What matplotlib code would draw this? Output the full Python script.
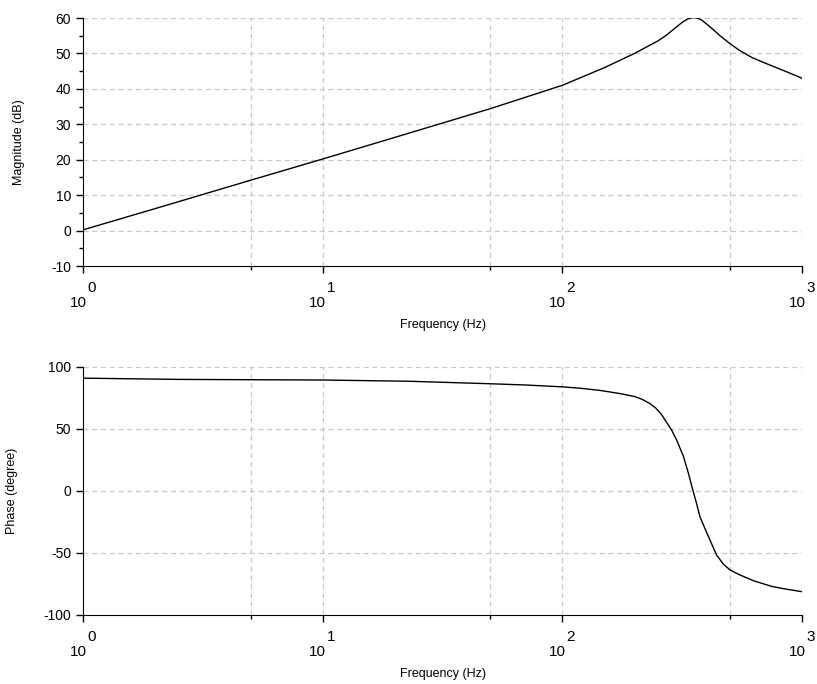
import numpy as np
import matplotlib
matplotlib.use("Agg")
import matplotlib.pyplot as plt
from matplotlib.ticker import FixedLocator, NullFormatter

plt.rcParams['font.family'] = ['Liberation Sans', 'DejaVu Sans']

# magnitude curve
mag_freq = [1, 2, 5, 10, 20, 50, 100, 150, 200, 250, 270, 290, 310, 320, 335,
            350, 365, 380, 400, 425, 455, 500, 550, 620, 700, 850, 1000]
mag_db = [0.2, 6.2, 14.2, 20.2, 26.3, 34.4, 41.0, 46.0, 50.0, 53.5, 55.0, 56.7,
          58.3, 59.0, 59.8, 60.1, 60.0, 59.5, 58.3, 56.8, 55.0, 52.8, 50.8, 48.8,
          47.3, 45.0, 43.0]

# phase curve
ph_freq = [1, 2.5, 10, 23, 50, 70, 100, 120, 145, 175, 200, 215, 232, 245, 258,
           272, 286, 300, 320, 335, 350, 362, 375, 393, 413, 440, 470, 501, 551,
           630, 750, 850, 1000]
ph_deg = [91, 90, 89.5, 88.5, 86.5, 85.5, 84, 82.8, 81, 78.5, 76.2, 74, 70.5,
          67, 62.3, 55.5, 49, 41, 28, 15, 1, -9, -20.7, -30, -39.5, -51.6, -59,
          -63.7, -67.7, -72.5, -77, -79, -81.2]

xticks = [1, 10, 100, 1000]
xtick_exp = ['0', '1', '2', '3']
xminor = [5, 50, 500]
mag_ticks = [-10, 0, 10, 20, 30, 40, 50, 60]
mag_minor = [-5, 5, 15, 25, 35, 45, 55]
ph_ticks = [-100, -50, 0, 50, 100]

fig = plt.figure(figsize=(8.17, 6.84), dpi=100)
ax1 = fig.add_axes([83/817, 1-266/684, 719/817, 248/684])
ax2 = fig.add_axes([83/817, 1-615/684, 719/817, 248/684])

ax1.plot(mag_freq, mag_db, color='black', lw=1.0)
ax2.plot(ph_freq, ph_deg, color='black', lw=1.0)

for ax, yt, lab in [(ax1, mag_ticks, 'Magnitude (dB)'), (ax2, ph_ticks, 'Phase (degree)')]:
    ax.set_xscale('log')
    ax.set_xlim(1, 1000)
    ax.set_ylim(yt[0], yt[-1])
    ax.xaxis.set_major_locator(FixedLocator(xticks))
    ax.xaxis.set_major_formatter(NullFormatter())
    ax.xaxis.set_minor_locator(FixedLocator(xminor))
    ax.xaxis.set_minor_formatter(NullFormatter())
    ax.set_yticks(yt)
    ax.set_yticklabels([str(v) for v in yt])
    ax.spines['top'].set_visible(False)
    ax.spines['right'].set_visible(False)
    ax.tick_params(axis='both', which='major', direction='out', length=5, width=1,
                   labelsize=10, colors='black')
    ax.tick_params(axis='both', which='minor', direction='out', length=3, width=1)
    ax.set_xlabel('Frequency (Hz)', fontsize=9, labelpad=30)
    ax.set_ylabel(lab, fontsize=9)
    # "10" with raised exponent, as separate texts
    for xv, e in zip(xticks, xtick_exp):
        ax.annotate('10', (xv, 0), xycoords=('data', 'axes fraction'),
                    xytext=(-5, -41), textcoords='offset pixels',
                    ha='center', va='baseline', fontsize=11)
        ax.annotate(e, (xv, 0), xycoords=('data', 'axes fraction'),
                    xytext=(4, -26), textcoords='offset pixels',
                    ha='left', va='baseline', fontsize=11)
    # grid at decades, 5x points and y ticks
    for xv in xticks[1:] + xminor:
        ax.axvline(xv, color='#c8c8c8', lw=0.9, ls=(0, (4, 3)), zorder=0)
    for yv in yt[1:]:
        ax.axhline(yv, color='#c8c8c8', lw=0.9, ls=(0, (4, 3)), zorder=0)

ax1.set_yticks(mag_minor, minor=True)
ax1.yaxis.set_label_coords(-0.08, 0.5)
ax2.yaxis.set_label_coords(-0.09, 0.5)

fig.savefig('out.png', dpi=100, facecolor='white')
